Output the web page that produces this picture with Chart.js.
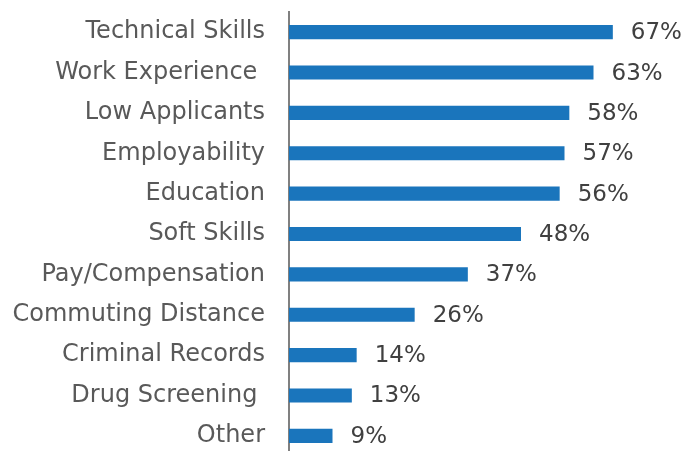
<!DOCTYPE html>
<html>
<head>
<meta charset="utf-8">
<script src="https://cdn.jsdelivr.net/npm/chart.js@4"></script>
<style>
  html, body { margin: 0; padding: 0; background: #fff; overflow: hidden; }
  #wrap { width: 695px; height: 456px; }
</style>
</head>
<body>
<div id="wrap"><canvas id="myChart"></canvas></div>
<script>
let labels = ['Technical Skills', 'Work Experience ', 'Low Applicants', 'Employability', 'Education',
  'Soft Skills', 'Pay/Compensation', 'Commuting Distance', 'Criminal Records', 'Drug Screening ', 'Other'];
let values = [67, 63, 58, 57, 56, 48, 37, 26, 14, 13, 9];
let barColor = '#1a75bc';

let tickFont = { family: '"DejaVu Sans", sans-serif', size: 24 };
let valueFont = '23px "DejaVu Sans", sans-serif';

// value labels to the right of each bar
let valueLabels = {
  id: 'valueLabels',
  afterDatasetsDraw(chart) {
    let ctx = chart.ctx;
    let meta = chart.getDatasetMeta(0);
    ctx.save();
    ctx.font = valueFont;
    ctx.fillStyle = '#404040';
    ctx.textAlign = 'left';
    ctx.textBaseline = 'middle';
    meta.data.forEach((bar, i) => {
      ctx.fillText(values[i] + '%', bar.x + 18, bar.y + 1);
    });
    ctx.restore();
  }
};

let myChart = document.getElementById('myChart').getContext('2d');

let chart = new Chart(myChart, {
  type: 'bar',
  data: {
    labels: labels,
    datasets: [{
      data: values,
      backgroundColor: barColor,
      barPercentage: 0.35,
      categoryPercentage: 1
    }]
  },
  options: {
    indexAxis: 'y',
    responsive: true,
    maintainAspectRatio: false,
    animation: false,
    layout: { padding: { top: 12, right: 0, bottom: 0, left: 0 } },
    plugins: {
      legend: { display: false },
      tooltip: { enabled: false }
    },
    scales: {
      x: { display: false, min: 0, max: 84 },
      y: {
        grid: { display: false },
        border: { color: '#808080', width: 2 },
        ticks: { color: '#595959', font: tickFont, padding: 16 },
        afterFit(scale) {
          scale.width = 289;
          scale.paddingTop = 0;
          scale.paddingBottom = 0;
        }
      }
    }
  },
  plugins: [valueLabels]
});
</script>
</body>
</html>
